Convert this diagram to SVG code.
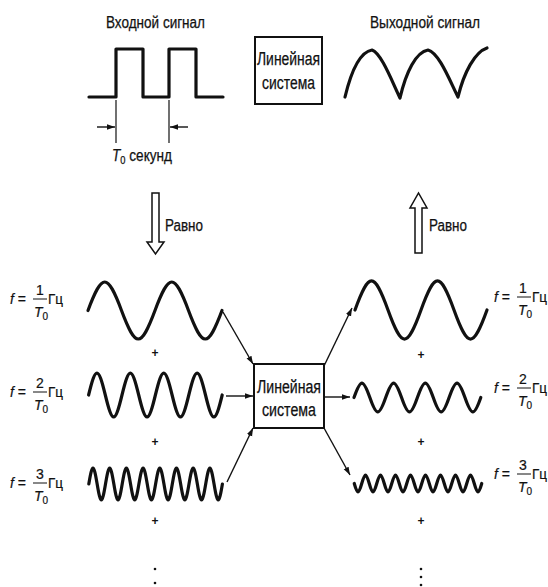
<svg xmlns="http://www.w3.org/2000/svg" width="548" height="587" viewBox="0 0 548 587">
<style>
.t{font-family:"Liberation Sans",Arial,sans-serif;font-size:16px;fill:#111;stroke:#111;stroke-width:0.25}
.bt{font-family:"Liberation Sans",Arial,sans-serif;font-size:18px;fill:#111;text-anchor:middle;stroke:#111;stroke-width:0.25}
.lb{font-family:"Liberation Sans",Arial,sans-serif;font-size:14px;fill:#111;stroke:#111;stroke-width:0.2}
.pl{font-family:"Liberation Sans",Arial,sans-serif;font-size:12px;fill:#111;text-anchor:middle;font-weight:bold}
.w{fill:none;stroke:#111;stroke-width:3.2;stroke-linejoin:round;stroke-linecap:round}
.box{fill:#fff;stroke:#111;stroke-width:2}
.c{stroke:#111;stroke-width:1.4;fill:none}
.hol{fill:#fff;stroke:#111;stroke-width:1.5;stroke-linejoin:miter}
</style>
<defs>
<marker id="ah" viewBox="0 0 10 10" refX="10" refY="5" markerWidth="8" markerHeight="8" markerUnits="userSpaceOnUse" orient="auto">
<path d="M0,1.5 L10,5 L0,8.5 z" fill="#111"/>
</marker>
<g id="lab">
<line x1="33" y1="0" x2="47" y2="0" stroke="#111" stroke-width="1"/>
<text class="lb" x="48" y="5" textLength="15" lengthAdjust="spacingAndGlyphs">Гц</text>
<text class="lb" x="10" y="5" textLength="16" lengthAdjust="spacingAndGlyphs"><tspan font-style="italic">f</tspan> =</text>
<text class="lb" x="34" y="18"><tspan font-style="italic">T</tspan><tspan font-size="10" dy="3">0</tspan></text>
</g>
</defs>
<rect width="548" height="587" fill="#fff"/>

<g id="input-signal">
<text class="t" x="106" y="28" textLength="99" lengthAdjust="spacingAndGlyphs">Входной сигнал</text>
<path class="w" d="M89,97 H116 V49 H143 V97 H169 V49 H196 V97 H223" stroke-linecap="butt"/>
<line x1="116" y1="100" x2="116" y2="143" stroke="#111" stroke-width="1.2"/>
<line x1="169" y1="100" x2="169" y2="143" stroke="#111" stroke-width="1.2"/>
<text class="t" x="112" y="161" textLength="60" lengthAdjust="spacingAndGlyphs"><tspan font-style="italic">T</tspan><tspan font-size="11" dy="3">0</tspan><tspan dy="-3"> секунд</tspan></text>
</g>

<g id="system-top">
<rect class="box" x="255" y="37" width="67" height="67"/>
<text class="bt" x="288.5" y="65" textLength="63" lengthAdjust="spacingAndGlyphs">Линейная</text>
<text class="bt" x="288.5" y="89" textLength="53" lengthAdjust="spacingAndGlyphs">система</text>
</g>

<g id="output-signal">
<text class="t" x="370" y="28" textLength="110" lengthAdjust="spacingAndGlyphs">Выходной сигнал</text>
<path class="w" d="M345,97 C351,72 360,52 372,50 C381,53 391,79 400,98 C406,72 416,52 428,50 C439,53 449,79 458,97 C464,72 475,52 487,48"/>
</g>

<g id="left-harmonics">
<path class="w" d="M88,310.5 C102.2,272.5 107.3,272.5 121.5,310.5 S140.8,348.5 155,310.5 S174.3,272.5 188.5,310.5 S207.8,348.5 222,310.5"/>
<path class="w" d="M88.6,395 C95.69,365.7 98.21,365.7 105.3,395 S114.91,424.3 122,395 S131.61,365.7 138.7,395 S148.31,424.3 155.4,395 S165.01,365.7 172.1,395 S181.71,424.3 188.8,395 S198.41,365.7 205.5,395 S215.11,424.3 222.2,395"/>
<path class="w" d="M88.8,484 C92.34,462.7 93.61,462.7 97.15,484 S101.96,505.3 105.5,484 S110.31,462.7 113.85,484 S118.66,505.3 122.2,484 S127.01,462.7 130.55,484 S135.36,505.3 138.9,484 S143.71,462.7 147.25,484 S152.06,505.3 155.6,484 S160.41,462.7 163.95,484 S168.76,505.3 172.3,484 S177.11,462.7 180.65,484 S185.46,505.3 189,484 S193.81,462.7 197.35,484 S202.16,505.3 205.7,484 S210.51,462.7 214.05,484 S218.86,505.3 222.4,484"/>
<use href="#lab" x="0" y="299"/>
<text class="lb" x="40" y="295" text-anchor="middle">1</text>
<use href="#lab" x="0" y="392"/>
<text class="lb" x="40" y="388" text-anchor="middle">2</text>
<use href="#lab" x="0" y="483"/>
<text class="lb" x="40" y="479" text-anchor="middle">3</text>
<text class="pl" x="155" y="357">+</text>
<text class="pl" x="155" y="446">+</text>
<text class="pl" x="155" y="525">+</text>
<circle cx="155" cy="569" r="1.3" fill="#111"/>
<circle cx="155" cy="583" r="1.3" fill="#111"/>
</g>

<g id="system-center">
<rect class="box" x="254" y="364" width="70" height="64"/>
<text class="bt" x="289" y="393" textLength="64" lengthAdjust="spacingAndGlyphs">Линейная</text>
<text class="bt" x="289" y="416" textLength="54" lengthAdjust="spacingAndGlyphs">система</text>
</g>

<g id="right-harmonics">
<path class="w" d="M355,310 C369,271.3 374,271.3 388,310 S407,348.7 421,310 S440,271.3 454,310 S473,348.7 487,310"/>
<path class="w" d="M354,397.5 C360.73,378.2 363.12,378.2 369.85,397.5 S378.97,416.8 385.7,397.5 S394.82,378.2 401.55,397.5 S410.67,416.8 417.4,397.5 S426.52,378.2 433.25,397.5 S442.37,416.8 449.1,397.5 S458.22,378.2 464.95,397.5 S474.07,416.8 480.8,397.5"/>
<path class="w" d="M354.25,483.5 C357.43,494.8 358.57,494.8 361.75,483.5 S366.07,472.2 369.25,483.5 S373.57,494.8 376.75,483.5 S381.07,472.2 384.25,483.5 S388.57,494.8 391.75,483.5 S396.07,472.2 399.25,483.5 S403.57,494.8 406.75,483.5 S411.07,472.2 414.25,483.5 S418.57,494.8 421.75,483.5 S426.07,472.2 429.25,483.5 S433.57,494.8 436.75,483.5 S441.07,472.2 444.25,483.5 S448.57,494.8 451.75,483.5 S456.07,472.2 459.25,483.5 S463.57,494.8 466.75,483.5 S471.07,472.2 474.25,483.5 S478.57,494.8 481.75,483.5"/>
<use href="#lab" x="484" y="297"/>
<text class="lb" x="523" y="293" text-anchor="middle">1</text>
<use href="#lab" x="484" y="388"/>
<text class="lb" x="523" y="384" text-anchor="middle">2</text>
<use href="#lab" x="484" y="474"/>
<text class="lb" x="523" y="470" text-anchor="middle">3</text>
<text class="pl" x="421" y="359">+</text>
<text class="pl" x="421" y="446">+</text>
<text class="pl" x="421" y="525">+</text>
<circle cx="421" cy="569" r="1.3" fill="#111"/>
<circle cx="421" cy="577" r="1.3" fill="#111"/>
<circle cx="421" cy="585" r="1.3" fill="#111"/>
</g>

<g id="connectors">
<line class="c" x1="97" y1="127" x2="115" y2="127" marker-end="url(#ah)"/>
<line class="c" x1="188" y1="127" x2="170" y2="127" marker-end="url(#ah)"/>
<path class="hol" d="M152,193 H159 V242 H164 L155.5,254 L147,242 H152 Z"/>
<text class="t" x="165" y="231" textLength="38" lengthAdjust="spacingAndGlyphs">Равно</text>
<path class="hol" d="M415,253 V208 H410 L418.5,193 L427,208 H422 V253 Z"/>
<text class="t" x="429" y="231" textLength="38" lengthAdjust="spacingAndGlyphs">Равно</text>
<line class="c" x1="223" y1="312" x2="253" y2="364" marker-end="url(#ah)"/>
<line class="c" x1="226" y1="396" x2="253" y2="396" marker-end="url(#ah)"/>
<line class="c" x1="227" y1="482" x2="253" y2="428" marker-end="url(#ah)"/>
<line class="c" x1="324" y1="366" x2="352" y2="308" marker-end="url(#ah)"/>
<line class="c" x1="324" y1="397" x2="350" y2="397" marker-end="url(#ah)"/>
<line class="c" x1="324" y1="428" x2="350" y2="475" marker-end="url(#ah)"/>
</g>
</svg>
